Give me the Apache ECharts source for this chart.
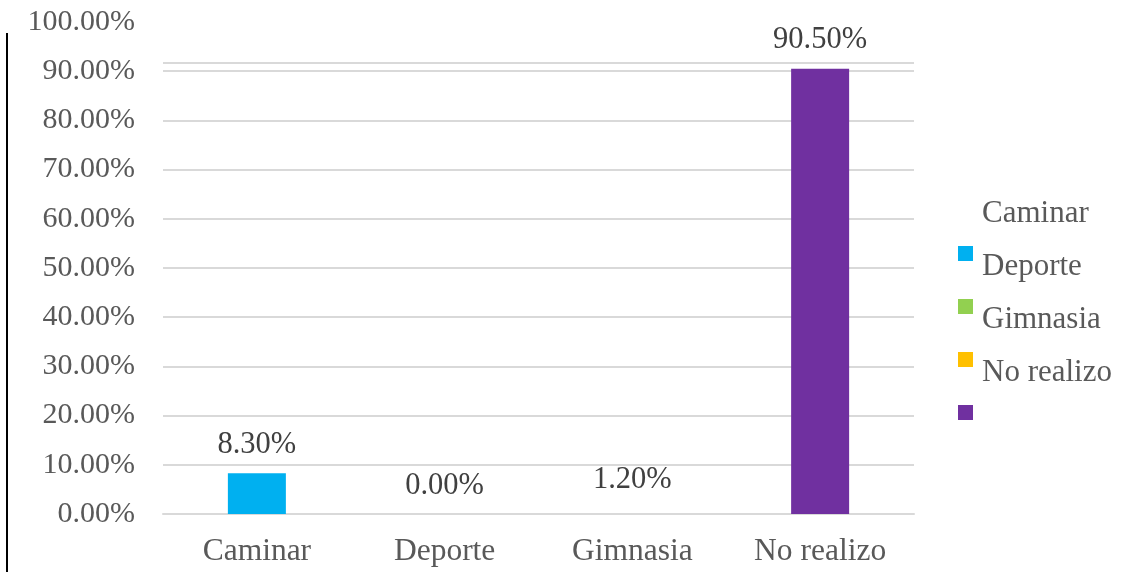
<!DOCTYPE html>
<html>
<head>
<meta charset="utf-8">
<script src="https://cdn.jsdelivr.net/npm/echarts@6/dist/echarts.min.js"></script>
<style>html,body{margin:0;padding:0;background:#fff}#c{width:1133px;height:572px}</style>
</head>
<body>
<div id="c"></div>
<script>
var categories = ['Caminar', 'Deporte', 'Gimnasia', 'No realizo'];
var seriesNames = ['Caminar', 'Deporte', 'Gimnasia', 'No realizo'];
var values = [8.3, 0.0, 1.2, 90.5];
var colors = ['#00B0F0', '#92D050', '#FFC000', '#7030A0'];
var yTicks = [0, 10, 20, 30, 40, 50, 60, 70, 80, 90, 100];

var FONT = '"Liberation Serif", "Times New Roman", serif';
var chart = echarts.init(document.getElementById('c'));

var series = seriesNames.map(function (name, i) {
  var data = categories.map(function (c, j) {
    if (j !== i) return '-';
    var item = { value: values[j] };
    if (name === 'Gimnasia') item.itemStyle = { color: 'rgba(255,255,255,0)' };
    return item;
  });
  var s = {
    name: name,
    type: 'bar',
    barWidth: 58,
    barGap: '-100%',
    itemStyle: { color: colors[i] },
    label: {
      show: true,
      position: 'top',
      distance: 13,
      fontFamily: FONT,
      fontSize: 30.5,
      color: '#404040',
      formatter: function (p) { return p.value.toFixed(2) + '%'; }
    },
    data: data
  };
  if (i === 0) {
    s.markLine = {
      silent: true,
      symbol: 'none',
      label: { show: false },
      lineStyle: { color: '#d9d9d9', width: 2, type: 'solid' },
      data: [{ yAxis: 91.7 }]
    };
  }
  return s;
});

var splitColors = yTicks.map(function (v) { return v === 100 ? 'rgba(0,0,0,0)' : '#d9d9d9'; });

chart.setOption({
  animation: false,
  backgroundColor: '#ffffff',
  grid: { left: 163, right: 219, top: 22, bottom: 58 },
  xAxis: {
    type: 'category',
    data: categories,
    axisLine: { show: true, lineStyle: { color: '#d9d9d9', width: 2 } },
    axisTick: { show: false },
    axisLabel: { fontFamily: FONT, fontSize: 31.5, color: '#595959', margin: 22 }
  },
  yAxis: {
    type: 'value',
    min: 0,
    max: 100,
    interval: 10,
    axisLine: { show: false },
    axisTick: { show: false },
    splitLine: { lineStyle: { color: splitColors, width: 2 } },
    axisLabel: {
      fontFamily: FONT, fontSize: 30, color: '#595959', margin: 28,
      formatter: function (v) { return v.toFixed(2) + '%'; }
    }
  },
  legend: {
    orient: 'vertical',
    left: 958,
    top: 198,
    padding: 0,
    icon: 'rect',
    itemWidth: 15,
    itemHeight: 15,
    itemGap: -10,
    data: seriesNames,
    formatter: '{t|{name}}',
    textStyle: {
      rich: {
        t: { fontFamily: FONT, fontSize: 31, color: '#595959', padding: [0, 0, 80, 4] }
      }
    }
  },
  graphic: [{
    type: 'rect',
    left: 6,
    top: 33,
    shape: { width: 2, height: 539 },
    style: { fill: '#000' },
    silent: true
  }],
  series: series
});
</script>
</body>
</html>
